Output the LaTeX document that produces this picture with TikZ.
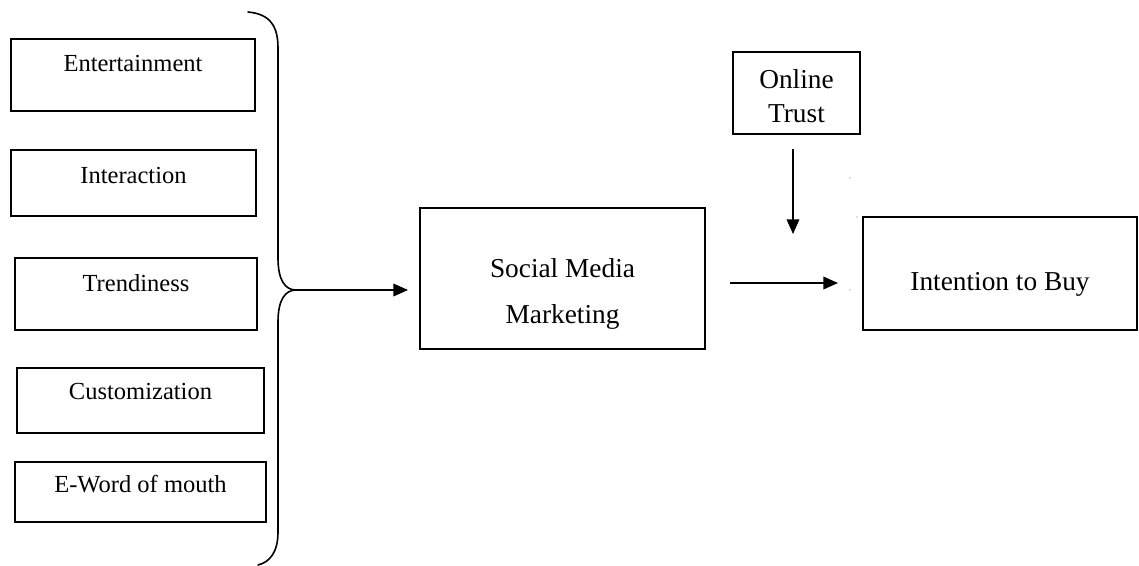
\documentclass[tikz,border=0pt]{standalone}
\usepackage{fontspec}
\setmainfont{Liberation Serif}
\usetikzlibrary{arrows.meta}
\begin{document}
\begin{tikzpicture}[x=0.75pt,y=-0.75pt,
  box/.style 2 args={draw, line width=1.2pt, inner sep=0pt,
    minimum width=#1*0.75pt, minimum height=#2*0.75pt},
  smalltxt/.style={anchor=base, inner sep=0pt, font=\fontsize{18.4pt}{22pt}\selectfont},
  bigtxt/.style={anchor=base, inner sep=0pt, font=\fontsize{20.5pt}{24pt}\selectfont},
  flow/.style={line width=1.1pt, -{Triangle[length=11pt,width=9.5pt]}},
  brace/.style={line width=1.2pt, line cap=round}]
\useasboundingbox (0,0) rectangle (1139,565);

% factor boxes
\node[box={244}{72}] (ent) at (133,75) {};
\node[box={245}{66}] (int) at (133.5,183) {};
\node[box={242}{72}] (tre) at (136,294) {};
\node[box={247}{65}] (cus) at (140.5,400.5) {};
\node[box={251}{60}] (ewm) at (140.5,492) {};
\node[smalltxt] (entT) at (133,71) {Entertainment};
\node[smalltxt] (intT) at (133.5,183) {Interaction};
\node[smalltxt] (treT) at (136,291) {Trendiness};
\node[smalltxt] (cusT) at (140.5,399) {Customization};
\node[smalltxt] (ewmT) at (140.5,492) {E-Word of mouth};

% grouping brace
\coordinate (tip) at (296,290);
\draw[brace] (248,12) .. controls (270,14) and (278,26) .. (278,48)
  -- (278,258) .. controls (278,280) and (285,290) .. (tip)
  .. controls (285,290) and (278,300) .. (278,322)
  -- (278,532) .. controls (278,552) and (270,562) .. (258,565);

% main constructs
\node[box={285}{141}] (smm) at (562.5,278.5) {};
\node[bigtxt] (smmT1) at (562.5,277) {Social Media};
\node[bigtxt] (smmT2) at (562.5,323) {Marketing};
\node[box={127}{82}] (trust) at (796.5,93) {};
\node[bigtxt] (trustT1) at (796.5,88) {Online};
\node[bigtxt] (trustT2) at (796.5,122) {Trust};
\node[box={274}{113}] (itb) at (1000,273.5) {};
\node[bigtxt] (itbT) at (1000,290) {Intention to Buy};

% connectors
\coordinate (smmIn) at (408,290);
\coordinate (midS) at (730,283);
\coordinate (midE) at (838,283);
\coordinate (trS) at (793,149);
\coordinate (trE) at (793,234);
\draw[flow] (tip) -- (smmIn);
\draw[flow] (midS) -- (midE);
\draw[flow] (trS) -- (trE);

% stray dots
\fill[gray] (850,178) circle (0.7);
\fill[gray] (857,217) circle (0.7);
\fill[gray] (850,290) circle (0.7);
\end{tikzpicture}
\end{document}
